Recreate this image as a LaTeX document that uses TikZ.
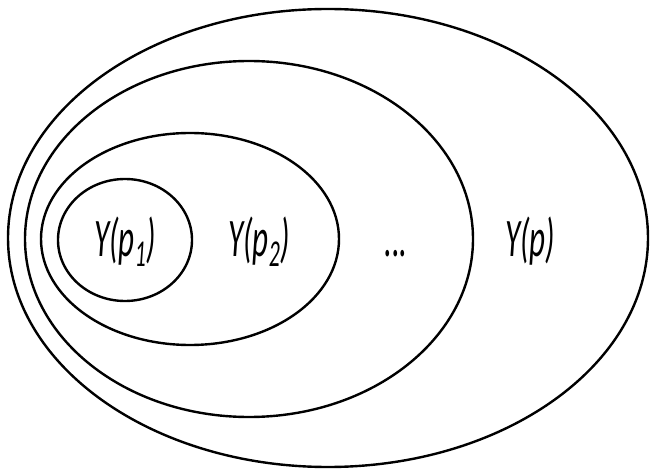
\documentclass[tikz,border=0pt]{standalone}
\usepackage{fontspec}
\setmainfont{Carlito}
\usetikzlibrary{shapes.geometric}
\tikzset{
  ring/.style={draw=black, line width=2.4pt, ellipse, inner sep=0pt, fill=none},
  lbl/.style={anchor=base, inner sep=0pt, font=\itshape\fontsize{31}{31}\selectfont}
}
\newcommand{\tall}[1]{\scalebox{1}[1.75]{#1}}
\begin{document}
\begin{tikzpicture}[x=1pt, y=-1pt]
\useasboundingbox (0,0) rectangle (651,473);
\fill[white] (0,0) rectangle (651,473);
\node[ring, minimum width=640pt, minimum height=458pt] (e4) at (328,238) {};
\node[ring, minimum width=448pt, minimum height=356pt] (e3) at (249,239) {};
\node[ring, minimum width=298pt, minimum height=212pt] (e2) at (190,239) {};
\node[ring, minimum width=134pt, minimum height=122pt] (e1) at (125,240) {};
\node[lbl] (t1) at (125,257) {\tall{Y(p\textsubscript{1})}};
\node[lbl] (t2) at (259,257) {\tall{Y(p\textsubscript{2})}};
\node[lbl] (t3) at (396,257) {\tall{...}};
\node[lbl] (t4) at (530,257) {\tall{Y(p)}};
\end{tikzpicture}
\end{document}
